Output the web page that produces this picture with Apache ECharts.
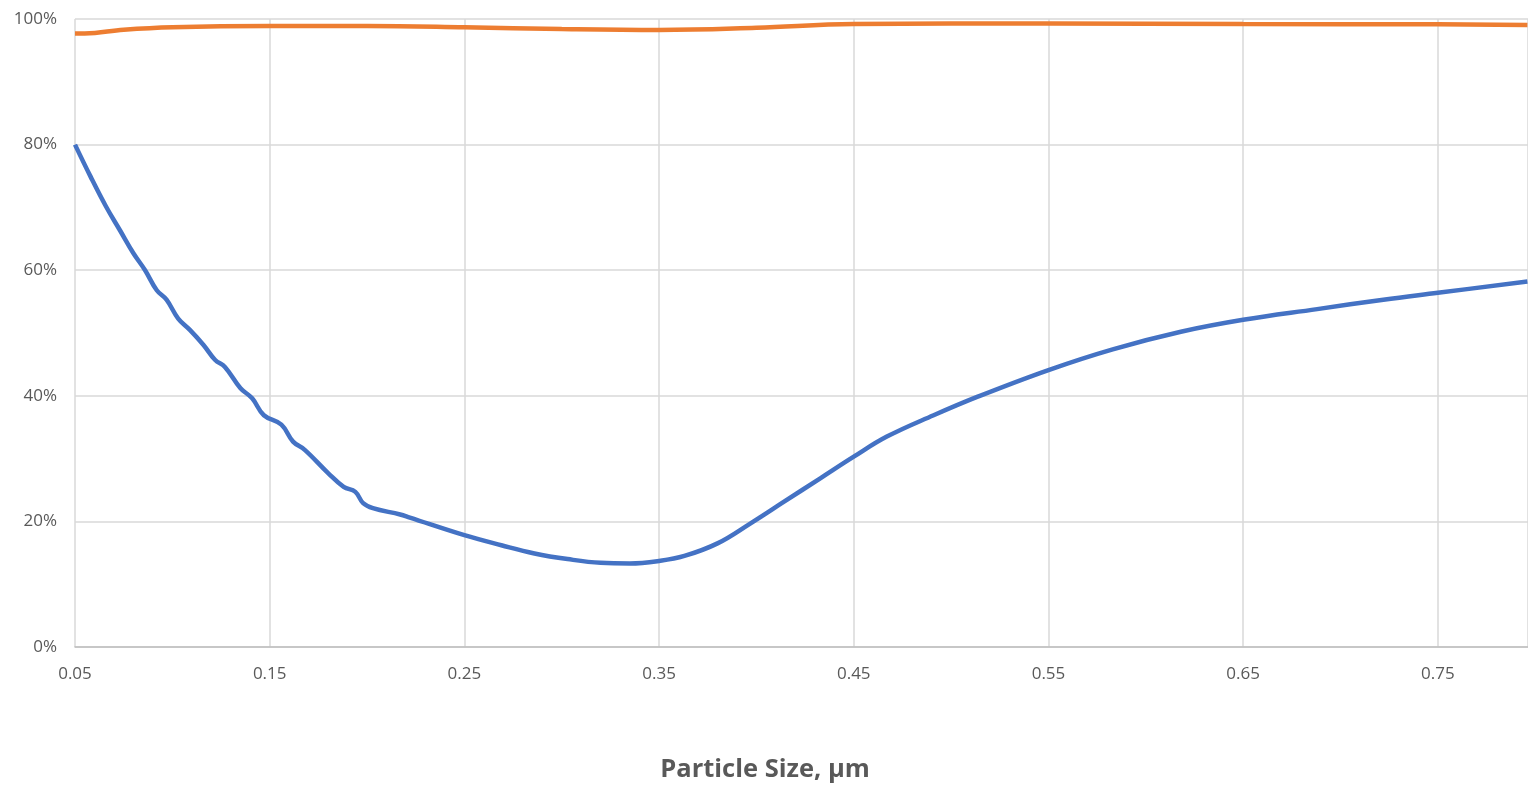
<!DOCTYPE html>
<html>
<head>
<meta charset="utf-8">
<script src="https://cdn.jsdelivr.net/npm/echarts@6/dist/echarts.min.js"></script>
<style>html,body{margin:0;padding:0;background:#fff}#c{width:1528px;height:786px}</style>
</head>
<body>
<div id="c"></div>
<script>
// Particle sizes (µm) and efficiencies (%)
const blueSizes = [0.050,0.058,0.066,0.073,0.080,0.086,0.092,0.097,0.103,0.109,0.116,0.122,0.127,0.135,0.141,0.147,0.156,0.162,0.168,0.180,0.188,0.194,0.198,0.203,0.217,0.222,0.250,0.269,0.286,0.303,0.320,0.335,0.350,0.363,0.380,0.397,0.414,0.433,0.450,0.467,0.491,0.514,0.550,0.583,0.618,0.650,0.688,0.722,0.750,0.796];
const blueValues = [80.0,74.9,70.1,66.4,62.7,60.0,56.8,55.3,52.3,50.5,48.1,45.7,44.6,41.2,39.6,36.9,35.4,32.7,31.4,27.7,25.5,24.7,22.9,22.1,21.1,20.6,17.8,16.2,14.9,14.0,13.4,13.3,13.7,14.5,16.5,19.7,23.1,26.9,30.3,33.5,36.9,39.9,44.1,47.4,50.2,52.1,53.8,55.3,56.4,58.2];
const orangeSizes = [0.050,0.055,0.075,0.100,0.150,0.200,0.250,0.300,0.350,0.400,0.450,0.550,0.650,0.750,0.796];
const orangeValues = [97.7,97.7,98.3,98.7,98.9,98.9,98.7,98.4,98.25,98.6,99.2,99.3,99.2,99.15,99.05];
const xTitle = 'Particle Size, µm';

const pairs = (xs, ys) => xs.map((x, i) => [x, ys[i]]);
const chart = echarts.init(document.getElementById('c'), null, {renderer: 'canvas'});
const txt = '#595959';
chart.setOption({
  animation: false,
  backgroundColor: '#ffffff',
  title: {text: xTitle, left: 760, top: 752, textAlign: 'center',
    textStyle: {color: txt, fontSize: 25.5, fontWeight: 'bold', fontFamily: 'Open Sans'}},
  grid: {left: 75, top: 19, right: 0, height: 628, containLabel: false},
  xAxis: {
    type: 'value', min: 0.05, max: 0.7963, interval: 0.1,
    axisLine: {show: true, lineStyle: {color: '#bfbfbf', width: 1.5}},
    axisTick: {show: false},
    axisLabel: {color: txt, fontSize: 17, fontFamily: 'Open Sans', margin: 19, showMaxLabel: false,
      formatter: v => v.toFixed(2)},
    splitLine: {show: true, lineStyle: {color: '#d9d9d9', width: 1.5}}
  },
  yAxis: {
    type: 'value', min: 0, max: 100, interval: 20,
    axisLine: {show: false}, axisTick: {show: false},
    axisLabel: {color: txt, fontSize: 17, fontFamily: 'Open Sans', margin: 18, formatter: '{value}%'},
    splitLine: {show: true, lineStyle: {color: '#d9d9d9', width: 1.5}}
  },
  series: [
    {type: 'line', data: pairs(blueSizes, blueValues), showSymbol: false, smooth: 0.4,
      lineStyle: {color: '#4472C4', width: 4.5}, itemStyle: {color: '#4472C4'}},
    {type: 'line', data: pairs(orangeSizes, orangeValues), showSymbol: false, smooth: 0.4,
      lineStyle: {color: '#ED7D31', width: 4.5}, itemStyle: {color: '#ED7D31'}}
  ]
});
</script>
</body>
</html>
